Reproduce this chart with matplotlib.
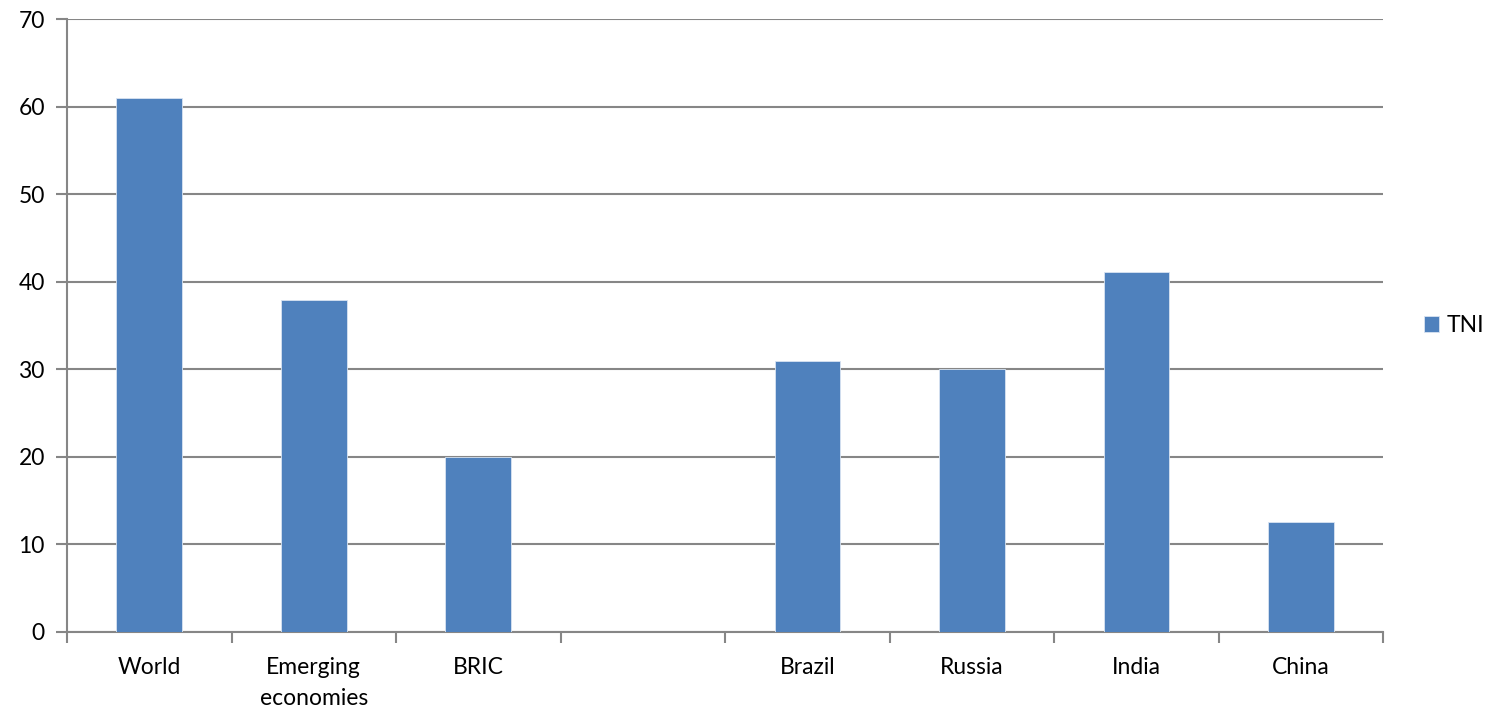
import matplotlib.pyplot as plt
import numpy as np

# TNI by economy group / country (one empty slot separates aggregates from countries)
categories = ["World", "Emerging\neconomies", "BRIC", "", "Brazil", "Russia", "India", "China"]
tni = [61.0, 37.9, 20.0, np.nan, 30.9, 30.0, 41.1, 12.6]

BAR = "#4F81BD"
GRID = "#868686"

plt.rcParams["font.family"] = ["Lato", "DejaVu Sans"]

fig = plt.figure(figsize=(14.89, 7.10), dpi=100)
ax = fig.add_axes([0.045, 0.110, 0.884, 0.863])

x = np.arange(len(categories))
ax.bar(x, tni, width=0.4, color=BAR, edgecolor="#D9E4F2", linewidth=0.6, label="TNI", zorder=3)

ax.set_xlim(-0.5, len(categories) - 0.5)
ax.set_ylim(0, 70)
ax.set_yticks(range(0, 71, 10))
ax.tick_params(axis="y", labelsize=16.5, length=8, color=GRID, width=1.5, pad=8)

ax.set_xticks(x, categories, fontsize=16.5, linespacing=1.6)
ax.set_xticks(np.arange(-0.5, len(categories)), minor=True)
ax.tick_params(axis="x", which="major", length=0, pad=18)
ax.tick_params(axis="x", which="minor", length=8, color=GRID, width=1.5)

ax.grid(axis="y", color=GRID, lw=1.5, zorder=0)
for side in ["top", "right"]:
    ax.spines[side].set_visible(False)
ax.spines["left"].set_color(GRID)
ax.spines["left"].set_linewidth(1.5)
ax.spines["bottom"].set_color(GRID)
ax.spines["bottom"].set_linewidth(1.5)

ax.legend(loc="center left", bbox_to_anchor=(1.015, 0.5), frameon=False,
          fontsize=16.5, handlelength=0.65, handleheight=0.65, handletextpad=0.35)

fig.savefig("out.png")
